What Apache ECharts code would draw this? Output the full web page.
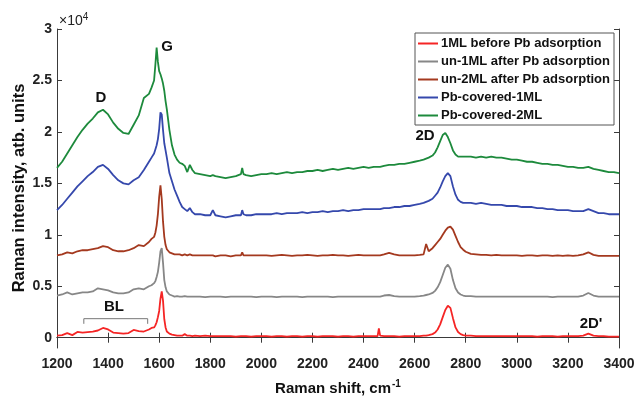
<!DOCTYPE html>
<html>
<head>
<meta charset="utf-8">
<script src="https://cdn.jsdelivr.net/npm/echarts@6/dist/echarts.min.js"></script>
<style>
  html, body { margin: 0; padding: 0; background: #fff; }
  #chart { width: 636px; height: 398px; }
</style>
</head>
<body>
<div id="chart"></div>
<script>
// Raman shift grid (cm^-1) shared by all spectra
const shifts = [
  1200,1220,1240,1260,1280,1300,1320,1340,1360,1380,1400,1420,1440,1460,1480,1500,1520,1540,1560,
  1570,1580,1585,1590,1595,1600,1605,1610,1615,1620,1625,1630,1640,1650,1660,1670,1680,1690,1700,1710,1720,1730,1740,
  1760,1780,1800,1810,1820,1840,1860,1880,1900,1920,1925,1930,1940,1960,1980,2000,
  2020,2040,2060,2080,2100,2120,2140,2160,2180,2200,2220,2240,2260,2280,2300,2320,2340,2360,2380,2400,2420,2440,
  2455,2460,2465,2480,2500,2520,2540,2560,2580,2600,2620,2635,2645,2655,
  2670,2680,2690,2700,2710,2720,2730,2740,2750,2760,2770,2780,2790,2800,
  2820,2840,2860,2880,2900,2920,2940,2960,2980,3000,3020,3040,3060,3080,3100,3120,3140,3160,3180,3200,3220,3240,3260,3280,3300,3320,3340,3360,3380,3400
];

// Intensities (counts) for each sample
const ml1Before = [
  200,250,450,250,560,500,550,600,700,950,800,500,450,400,450,750,650,600,800,
  950,1000,1200,1500,2000,2600,3800,4500,3600,1800,1000,600,400,300,250,200,200,200,350,200,200,150,200,
  150,200,150,150,150,150,150,150,100,150,150,150,150,100,150,150,
  150,100,150,150,100,150,150,100,150,150,100,150,150,150,100,150,150,100,150,150,150,150,
  150,900,200,150,150,150,100,150,150,150,150,200,200,250,
  350,500,800,1300,2000,2700,3100,2900,1900,1000,550,350,250,200,
  200,150,150,150,150,150,150,150,150,150,150,150,150,100,150,150,150,100,150,150,150,150,200,400,200,150,150,100,100,100
];
const un1After = [
  4100,4200,4400,4200,4300,4400,4400,4500,4800,4700,4600,4400,4300,4300,4400,4700,4800,4700,5000,
  5100,5300,5500,5900,6400,7300,8400,8700,7300,5600,4900,4500,4200,4100,4000,4050,4000,4000,4050,4000,4000,4000,4000,
  4000,3950,4000,4000,4000,4000,3950,4000,4000,4000,4000,4000,4000,4000,3950,4000,
  4000,4000,3950,4000,4000,4000,4000,3950,4000,4000,4000,4000,4000,3950,4000,4000,4000,4000,4000,4000,4000,4000,
  4000,4000,4000,4100,4150,4050,4000,4000,4000,4000,4050,4100,4150,4200,
  4350,4550,4900,5400,6100,6800,7100,6700,5600,4800,4400,4200,4100,4050,
  4050,4000,4000,4000,4000,4000,4000,4000,4000,4000,4000,4000,4000,4000,4000,4000,3950,4000,4000,4000,4000,4000,4100,4350,4100,4000,4000,4000,4000,4000
];
const un2After = [
  8000,8100,8300,8200,8400,8500,8500,8600,8700,8900,8800,8500,8400,8400,8500,8700,9000,8900,9300,
  9600,9800,10200,10900,12000,13700,14800,13500,11300,9800,9000,8600,8300,8200,8100,8100,8100,8000,8100,8000,8100,8000,8000,
  8000,8000,8000,8000,7900,8000,8000,7900,8000,8000,8300,8000,8000,8000,8000,8000,
  8000,7950,8000,8050,8000,7950,8000,8000,8050,8000,7950,8000,8000,8050,8000,8000,7950,8000,8050,8000,8000,8000,
  8000,8000,8000,8100,8250,8100,8000,8000,8000,8000,8050,8100,9100,8400,
  8700,9000,9300,9600,10000,10400,10700,10800,10500,9900,9300,8800,8550,8350,
  8150,8100,8050,8050,8000,8050,8000,8000,8000,8000,7950,8000,8000,7950,8000,8000,7950,8000,7950,8000,7950,8000,8100,8300,8050,7950,7950,7950,7950,7950
];
const pbCovered1 = [
  12400,12900,13500,14100,14700,15200,15700,16100,16600,16800,16400,15800,15300,15000,14900,15300,15600,16300,17100,
  17500,17900,18300,18700,19300,20300,21900,21700,20200,18900,18200,17500,16000,15200,14400,13800,13200,12700,12500,12300,12600,12200,12000,
  12000,11900,11900,12400,11900,11800,11700,11800,11900,11900,12400,12000,11900,11900,12000,12000,
  12000,12000,12100,12000,12100,12100,12100,12200,12100,12200,12200,12300,12200,12300,12300,12400,12300,12400,12400,12500,12500,12500,
  12500,12600,12500,12600,12600,12700,12700,12800,12800,12900,13000,13100,13200,13300,
  13500,13800,14100,14600,15200,15700,16000,15700,14700,13900,13400,13200,13100,13100,
  13100,13000,13100,13000,12900,12900,12900,12800,12800,12800,12700,12700,12700,12600,12600,12500,12500,12400,12400,12400,12300,12300,12300,12500,12300,12100,12100,12000,12000,12000
];
const pbCovered2 = [
  16500,17100,17900,18700,19500,20200,20800,21300,21900,22150,21700,20900,20300,19900,19800,20700,21600,23300,23700,
  24300,25000,26500,28200,26800,25900,25600,25200,24700,24000,23000,22200,20200,18700,17800,17300,17000,16900,16700,16100,16800,16300,16000,
  15900,15800,15700,15800,15700,15600,15500,15600,15700,15900,16500,15900,15800,15700,15800,15900,
  15900,16000,15900,16000,16100,16000,16100,16100,16200,16200,16300,16200,16300,16400,16300,16400,16500,16400,16500,16600,16500,16600,
  16600,16700,16600,16700,16800,16800,16900,16900,17000,17100,17200,17300,17400,17500,
  17700,18000,18500,19100,19700,19900,19500,18900,18200,17800,17600,17600,17600,17600,
  17600,17500,17600,17500,17600,17500,17500,17400,17300,17300,17200,17100,17100,17000,16900,16900,16800,16800,16700,16600,16600,16500,16500,16600,16400,16300,16200,16100,16100,16000
];

// Bracket marking the BL bands
const blBracket = [[1305, 1350], [1305, 1850], [1555, 1850], [1555, 1350]];

const seriesNames = [
  '1ML before Pb adsorption',
  'un-1ML after Pb adsorption',
  'un-2ML after Pb adsorption',
  'Pb-covered-1ML',
  'Pb-covered-2ML'
];
const seriesData = [ml1Before, un1After, un2After, pbCovered1, pbCovered2];
const seriesColors = ['#f52525', '#878787', '#a4391f', '#3548ac', '#1d8a3c'];

const yTicks = [0, 5000, 10000, 15000, 20000, 25000, 30000];
const axisColor = '#3a3a3a';
const font = 'Liberation Sans, Arial, sans-serif';

const chart = echarts.init(document.getElementById('chart'), null, { renderer: 'canvas' });

const lineSeries = seriesNames.map((name, i) => ({
  name: name,
  type: 'line',
  symbol: 'none',
  data: shifts.map((x, k) => [x, seriesData[i][k]]),
  lineStyle: { color: seriesColors[i], width: 1.8 },
  itemStyle: { color: seriesColors[i] },
  animation: false,
  z: 3 + i
}));

lineSeries.push({
  name: 'BL',
  type: 'line',
  symbol: 'none',
  data: blBracket,
  lineStyle: { color: '#777', width: 1 },
  animation: false,
  silent: true
});

const hiddenAxisX = {
  type: 'value', min: 1200, max: 3400, interval: 200, position: 'top',
  axisLine: { show: true, lineStyle: { color: axisColor, width: 1 } },
  axisTick: { show: true, inside: true, length: 5, lineStyle: { color: axisColor } },
  axisLabel: { show: false }, splitLine: { show: false }
};

chart.setOption({
  animation: false,
  backgroundColor: '#fff',
  grid: { left: 57, right: 17, top: 29, bottom: 50, containLabel: false, outerBoundsMode: 'none' },
  legend: {
    orient: 'vertical',
    left: 415, top: 33,
    data: seriesNames,
    itemWidth: 20, itemHeight: 12, itemGap: 5,
    padding: [4, 4, 3, 2],
    backgroundColor: '#fff',
    borderColor: '#555', borderWidth: 1,
    itemStyle: { opacity: 0 },
    lineStyle: { width: 2 },
    textStyle: { fontFamily: font, fontWeight: 'bold', fontSize: 13, lineHeight: 13, color: '#111', padding: [0, 0, 0, -2] }
  },
  xAxis: [{
    type: 'value', min: 1200, max: 3400, interval: 200,
    name: 'Raman shift, {s|cm}{sup|-1}',
    nameLocation: 'middle', nameGap: 31,
    nameTextStyle: {
      fontFamily: font, fontWeight: 'bold', fontSize: 15, color: '#111',
      rich: {
        s: { fontFamily: font, fontWeight: 'bold', fontSize: 15, color: '#111' },
        sup: { fontFamily: font, fontWeight: 'bold', fontSize: 10, color: '#111', verticalAlign: 'top', padding: [0, 0, 10, 1] }
      }
    },
    axisLine: { show: true, lineStyle: { color: axisColor, width: 1 } },
    axisTick: { show: true, inside: true, length: 5, lineStyle: { color: axisColor } },
    axisLabel: { fontFamily: font, fontWeight: 'bold', fontSize: 14, color: '#222', margin: 9, formatter: v => String(v) },
    splitLine: { show: false }
  }, hiddenAxisX],
  yAxis: [{
    type: 'value', min: -1000, max: 30000,
    axisLine: { show: true, lineStyle: { color: axisColor, width: 1 } },
    axisTick: { show: true, inside: true, length: 5, customValues: yTicks, lineStyle: { color: axisColor } },
    axisLabel: {
      fontFamily: font, fontWeight: 'bold', fontSize: 14, color: '#222', margin: 5,
      customValues: yTicks,
      formatter: v => String(v / 10000)
    },
    splitLine: { show: false }
  }, {
    type: 'value', min: -1000, max: 30000, position: 'right',
    axisLine: { show: true, lineStyle: { color: axisColor, width: 1 } },
    axisTick: { show: true, inside: true, length: 5, customValues: yTicks, lineStyle: { color: axisColor } },
    axisLabel: { show: false, customValues: yTicks },
    splitLine: { show: false }
  }],
  series: lineSeries,
  graphic: [
    // vertical axis title
    { type: 'text', x: 19, y: 188, rotation: Math.PI / 2,
      style: { text: 'Raman intensity, atb. units', fontFamily: font, fontWeight: 'bold', fontSize: 16.5, fill: '#111', align: 'center', verticalAlign: 'middle' } },
    { type: 'text', left: 59, top: 12, style: { text: '×10{e|4}', fontFamily: font, fontSize: 14, fill: '#222',
      rich: { e: { fontFamily: font, fontSize: 10, fill: '#222', verticalAlign: 'top', padding: [0, 0, 8, 0] } } } },
    { type: 'text', x: 101, y: 98, style: { text: 'D', fontFamily: font, fontWeight: 'bold', fontSize: 15, fill: '#111', align: 'center', verticalAlign: 'middle' } },
    { type: 'text', x: 167, y: 47, style: { text: 'G', fontFamily: font, fontWeight: 'bold', fontSize: 15, fill: '#111', align: 'center', verticalAlign: 'middle' } },
    { type: 'text', x: 425, y: 136, style: { text: '2D', fontFamily: font, fontWeight: 'bold', fontSize: 15, fill: '#111', align: 'center', verticalAlign: 'middle' } },
    { type: 'text', x: 591, y: 324, style: { text: "2D'", fontFamily: font, fontWeight: 'bold', fontSize: 15, fill: '#111', align: 'center', verticalAlign: 'middle' } },
    { type: 'text', x: 114, y: 307, style: { text: 'BL', fontFamily: font, fontWeight: 'bold', fontSize: 15, fill: '#111', align: 'center', verticalAlign: 'middle' } }
  ]
});
</script>
</body>
</html>
